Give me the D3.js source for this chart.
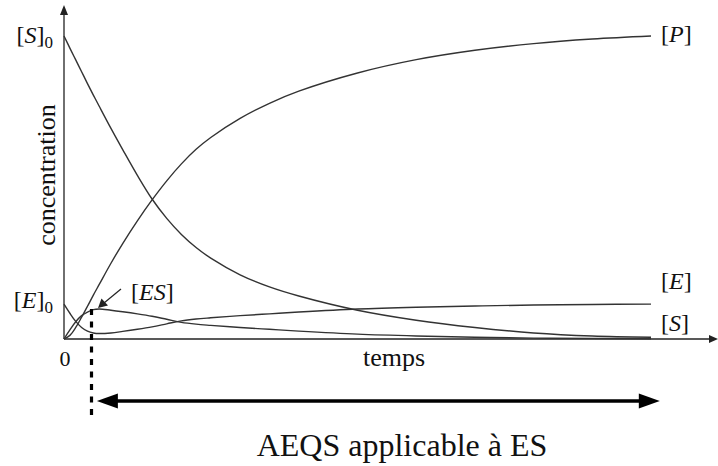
<!DOCTYPE html>
<html>
<head>
<meta charset="utf-8">
<script src="https://cdn.jsdelivr.net/npm/d3@7"></script>
<style>
  html, body { margin: 0; padding: 0; background: #fff; }
  svg { display: block; }
  text { font-family: "Liberation Serif", "Times New Roman", serif; fill: #111; }
</style>
</head>
<body>
<svg id="chart" width="718" height="466"></svg>
<script>
// Time grid (arbitrary units) and concentrations relative to [S]0
const times = [0, 0.1, 0.2, 0.3, 0.4, 0.5, 0.6, 0.8, 1.0, 1.25, 1.5, 1.75, 2, 2.25, 2.5, 3, 3.5, 4, 5, 6, 7, 8, 9, 10];
const substrate = [1.0, 0.96, 0.921, 0.882, 0.843, 0.805, 0.768, 0.695, 0.625, 0.54, 0.462, 0.398, 0.345, 0.302, 0.267, 0.212, 0.172, 0.142, 0.095, 0.062, 0.038, 0.02, 0.01, 0.006];
const product   = [0, 0.012, 0.038, 0.072, 0.108, 0.145, 0.18, 0.25, 0.315, 0.39, 0.459, 0.522, 0.578, 0.626, 0.665, 0.728, 0.778, 0.818, 0.878, 0.922, 0.953, 0.975, 0.99, 1.0];
const enzyme    = [0.115, 0.085, 0.058, 0.038, 0.026, 0.02, 0.018, 0.02, 0.025, 0.032, 0.04, 0.05, 0.06, 0.066, 0.07, 0.077, 0.083, 0.089, 0.099, 0.105, 0.109, 0.112, 0.114, 0.115];
const complex   = [0, 0.03, 0.057, 0.077, 0.089, 0.097, 0.099, 0.095, 0.09, 0.083, 0.075, 0.065, 0.055, 0.049, 0.045, 0.038, 0.032, 0.026, 0.016, 0.01, 0.006, 0.003, 0.002, 0.001];

// Start of the quasi-steady-state window and the span of its arrow
const qssStart = 0.46;
const qssSpan = [0.56, 10.15];

const svg = d3.select("#chart");

const x = d3.scaleLinear().domain([0, 10]).range([64, 651]);
const y = d3.scaleLinear().domain([0, 1]).range([339, 36]);

// Axes with arrowheads
const axisColor = "#222";
const xAxisEnd = 718, yAxisTop = 5;
svg.append("line").attr("x1", x(0)).attr("y1", y(0)).attr("x2", xAxisEnd - 6).attr("y2", y(0))
  .attr("stroke", axisColor).attr("stroke-width", 1.3);
svg.append("line").attr("x1", x(0)).attr("y1", y(0)).attr("x2", x(0)).attr("y2", yAxisTop + 8)
  .attr("stroke", axisColor).attr("stroke-width", 1.3);
svg.append("path")
  .attr("d", `M${xAxisEnd},${y(0)} L${xAxisEnd - 9},${y(0) - 4} L${xAxisEnd - 9},${y(0) + 4} Z`)
  .attr("fill", axisColor);
svg.append("path")
  .attr("d", `M${x(0)},${yAxisTop} L${x(0) - 4},${yAxisTop + 10} L${x(0) + 4},${yAxisTop + 10} Z`)
  .attr("fill", axisColor);

// Concentration curves
const line = d3.line()
  .x((d, i) => x(times[i]))
  .y(d => y(d))
  .curve(d3.curveCatmullRom.alpha(0.5));

[substrate, product, enzyme, complex].forEach(series => {
  svg.append("path")
    .attr("d", line(series))
    .attr("fill", "none")
    .attr("stroke", "#333")
    .attr("stroke-width", 1.4);
});

// Bracketed species label: [name] with optional subscript
function species(xPos, yPos, name, sub, anchor) {
  const t = svg.append("text")
    .attr("x", xPos).attr("y", yPos)
    .attr("text-anchor", anchor || "start")
    .attr("font-size", 24);
  t.append("tspan").text("[");
  t.append("tspan").attr("font-style", "italic").text(name);
  t.append("tspan").text("]");
  if (sub) {
    t.append("tspan").attr("font-size", 17).attr("dy", 5).text(sub);
  }
  return t;
}

species(53, 43, "S", "0", "end");
species(53, 308, "E", "0", "end");
species(661, 42, "P");
species(661, 289, "E");
species(661, 331, "S");
species(131, 300, "ES");

// Origin and axis titles
svg.append("text").attr("x", x(0) + 1).attr("y", 366).attr("text-anchor", "middle")
  .attr("font-size", 22).text("0");
svg.append("text").attr("x", 394).attr("y", 366).attr("text-anchor", "middle")
  .attr("font-size", 26).text("temps");
svg.append("text")
  .attr("transform", `translate(55,${175}) rotate(-90)`)
  .attr("text-anchor", "middle")
  .attr("font-size", 26)
  .text("concentration");

// Pointer to the [ES] curve
svg.append("line").attr("x1", 121).attr("y1", 289).attr("x2", 104).attr("y2", 303)
  .attr("stroke", "#222").attr("stroke-width", 1.2);
svg.append("path").attr("d", "M98,308 L101.5,298.5 L108,305.5 Z").attr("fill", "#222");

// Quasi-steady-state marker and window
const qx = Math.round(x(qssStart)) + 0.5;
svg.append("line").attr("x1", qx).attr("y1", y(complex[6])).attr("x2", qx).attr("y2", 419)
  .attr("stroke", "#000").attr("stroke-width", 3.2).attr("stroke-dasharray", "6,6.5");

const ay = 401;
const xa = x(qssSpan[0]), xb = x(qssSpan[1]);
svg.append("line").attr("x1", xa + 18).attr("y1", ay).attr("x2", xb - 18).attr("y2", ay)
  .attr("stroke", "#000").attr("stroke-width", 3.5);
svg.append("path").attr("d", `M${xa},${ay} L${xa + 21},${ay - 7.5} L${xa + 21},${ay + 7.5} Z`).attr("fill", "#000");
svg.append("path").attr("d", `M${xb},${ay} L${xb - 21},${ay - 7.5} L${xb - 21},${ay + 7.5} Z`).attr("fill", "#000");

svg.append("text").attr("x", 402).attr("y", 456).attr("text-anchor", "middle")
  .attr("font-size", 32).text("AEQS applicable à ES");
</script>
</body>
</html>
